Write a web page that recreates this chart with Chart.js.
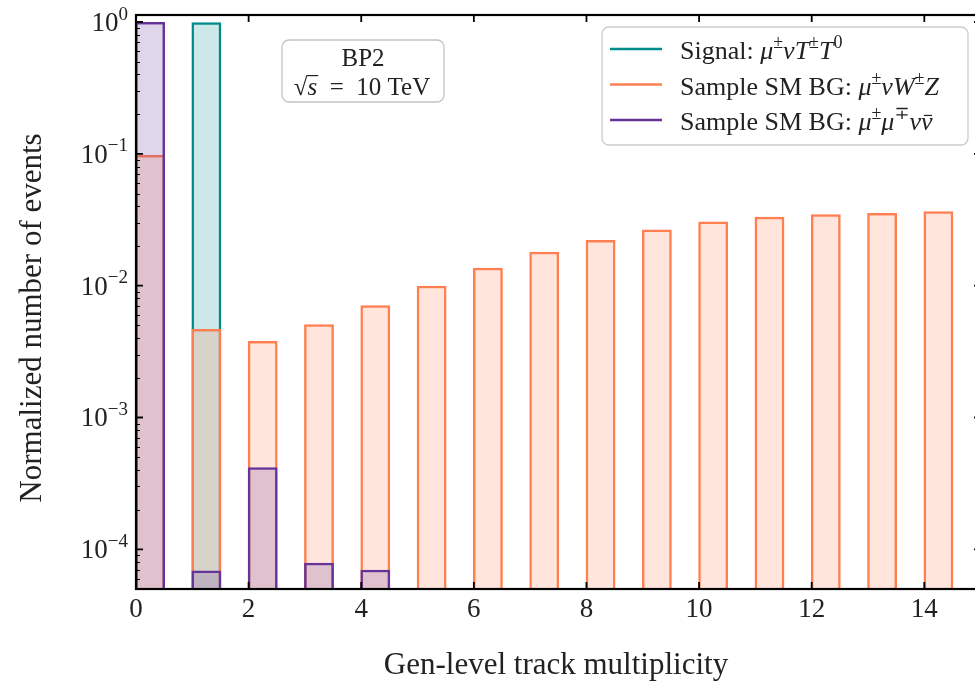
<!DOCTYPE html>
<html lang="en">
<head>
<meta charset="UTF-8">
<style>
  html, body { margin: 0; padding: 0; background: #fff; }
</style>
</head>
<body>
<canvas id="multChart" width="975" height="685"></canvas>
<script src="https://cdn.jsdelivr.net/npm/chart.js@4.4.1/dist/chart.umd.min.js"></script>
<script>
// Gen-level track multiplicity, normalized per sample. Bin k spans [k, k+0.5].
var bins = [0, 1, 2, 3, 4, 5, 6, 7, 8, 9, 10, 11, 12, 13, 14];
var signalFrac = [null, 0.995, null, null, null, null, null, null, null, null, null, null, null, null, null];
var wzFrac = [0.098, 0.0047, 0.0038, 0.0051, 0.0071, 0.0100, 0.0137, 0.0181, 0.0222, 0.0267, 0.0307, 0.0333, 0.0348, 0.0355, 0.0366];
var mumuFrac = [0.9994, 0.000069, 0.00042, 0.000079, 0.000070, null, null, null, null, null, null, null, null, null, null];

var xTickValues = [0, 2, 4, 6, 8, 10, 12, 14];
var yTickExps = [-4, -3, -2, -1, 0];

var TEAL = '#008b8b', CORAL = '#ff7f50', PURPLE = '#663399';
var SERIF = '"Liberation Serif", "DejaVu Serif", serif';

// legend entries as text runs (it = italic, sup = superscript, bar = accent bar)
var legendRows = [
  { color: TEAL, runs: [{ t: 'Signal: ' }, { t: 'μ', it: 1 }, { t: '±', sup: 1 }, { t: 'νT', it: 1 }, { t: '±', sup: 1 }, { t: 'T', it: 1 }, { t: '0', sup: 1 }] },
  { color: CORAL, runs: [{ t: 'Sample SM BG: ' }, { t: 'μ', it: 1 }, { t: '±', sup: 1 }, { t: 'νW', it: 1 }, { t: '±', sup: 1 }, { t: 'Z', it: 1 }] },
  { color: PURPLE, runs: [{ t: 'Sample SM BG: ' }, { t: 'μ', it: 1 }, { t: '±', sup: 1 }, { t: 'μ', it: 1 }, { t: '∓', sup: 1 }, { t: 'ν', it: 1 }, { t: 'ν', it: 1, bar: 1 }] }
];

function toPoints(vals) {
  return bins.map(function (b, i) { return { x: b + 0.25, y: vals[i] }; });
}

function runFont(r, size) {
  return (r.it ? 'italic ' : '') + (r.sup ? Math.round(size * 0.7) : size) + 'px ' + SERIF;
}

// draws a list of runs on one baseline
function drawRuns(c, runs, x, y, size, align) {
  var total = 0;
  runs.forEach(function (r) {
    c.font = runFont(r, size);
    r.w = c.measureText(r.t).width;
    total += r.w;
  });
  var cx = align === 'center' ? x - total / 2 : (align === 'right' ? x - total : x);
  c.textAlign = 'left';
  c.textBaseline = 'alphabetic';
  runs.forEach(function (r) {
    c.font = runFont(r, size);
    c.fillText(r.t, cx, r.sup ? y - size * 0.42 : y);
    c.lineWidth = 1.2;
    if (r.over) {
      // vinculum of the square root
      c.beginPath();
      c.moveTo(cx - 0.5, r.over);
      c.lineTo(cx + r.w + 1, r.over);
      c.stroke();
    }
    if (r.bar) {
      var by = y - size * 0.56;
      c.beginPath();
      c.moveTo(cx + r.w * 0.25, by);
      c.lineTo(cx + r.w * 0.95, by);
      c.stroke();
    }
    cx += r.w;
  });
}

function roundRect(c, x, y, w, h, r) {
  c.beginPath();
  c.moveTo(x + r, y);
  c.arcTo(x + w, y, x + w, y + h, r);
  c.arcTo(x + w, y + h, x, y + h, r);
  c.arcTo(x, y + h, x, y, r);
  c.arcTo(x, y, x + w, y, r);
  c.closePath();
}

// matplotlib-like frame: spines, inward ticks on all four sides, labels, legend, info box
var mplFrame = {
  id: 'mplFrame',
  afterDatasetsDraw: function (chart) {
    var c = chart.ctx, a = chart.chartArea, xs = chart.scales.x, ys = chart.scales.y;
    var right = a.right + 6; // right spine sits just past the canvas edge
    c.save();
    c.strokeStyle = '#000';
    c.fillStyle = '#000';

    // minor log ticks
    c.lineWidth = 1.2;
    for (var e = -5; e <= 0; e++) {
      for (var m = 2; m <= 9; m++) {
        var v = m * Math.pow(10, e);
        if (v < ys.min || v > ys.max) continue;
        var py = Math.round(ys.getPixelForValue(v)) + 0.5;
        c.beginPath();
        c.moveTo(a.left, py); c.lineTo(a.left + 4, py);
        c.moveTo(right - 4, py); c.lineTo(right, py);
        c.stroke();
      }
    }

    // major ticks
    c.lineWidth = 1.8;
    yTickExps.forEach(function (ex) {
      var py = ys.getPixelForValue(Math.pow(10, ex));
      c.beginPath();
      c.moveTo(a.left, py); c.lineTo(a.left + 7, py);
      c.moveTo(right - 7, py); c.lineTo(right, py);
      c.stroke();
    });
    xTickValues.forEach(function (xv) {
      var px = xs.getPixelForValue(xv);
      c.beginPath();
      c.moveTo(px, a.bottom); c.lineTo(px, a.bottom - 7);
      c.moveTo(px, a.top); c.lineTo(px, a.top + 7);
      c.stroke();
    });

    // spines
    c.lineWidth = 2.2;
    c.strokeRect(a.left, a.top, right - a.left, a.bottom - a.top);

    // tick labels
    c.fillStyle = '#222';
    xTickValues.forEach(function (xv) {
      drawRuns(c, [{ t: String(xv) }], xs.getPixelForValue(xv), a.bottom + 28, 27, 'center');
    });
    yTickExps.forEach(function (ex) {
      var py = ys.getPixelForValue(Math.pow(10, ex));
      var sup = ex < 0 ? '−' + (-ex) : String(ex);
      drawRuns(c, [{ t: '10' }, { t: sup, sup: 1 }], a.left - 8, py + 9, 27, 'right');
    });

    // axis titles
    drawRuns(c, [{ t: 'Gen-level track multiplicity' }], 556, 674, 31, 'center');
    c.save();
    c.translate(41, 318);
    c.rotate(-Math.PI / 2);
    drawRuns(c, [{ t: 'Normalized number of events' }], 0, 0, 31, 'center');
    c.restore();

    // benchmark box
    c.fillStyle = 'rgba(255,255,255,0.8)';
    roundRect(c, 282, 40, 162, 62, 7);
    c.fill();
    c.strokeStyle = '#c4c4c4';
    c.lineWidth = 1.3;
    c.stroke();
    c.fillStyle = '#222';
    c.strokeStyle = '#222';
    drawRuns(c, [{ t: 'BP2' }], 363, 66, 25, 'center');
    c.font = '25px ' + SERIF;
    var rootTop = 95 - c.measureText('√').actualBoundingBoxAscent + 0.6;
    drawRuns(c, [{ t: '√' }, { t: 's', it: 1, over: rootTop }, { t: '\u2002=\u200210 TeV' }], 362, 95, 25, 'center');

    // legend
    c.fillStyle = 'rgba(255,255,255,0.8)';
    roundRect(c, 602, 27, 366, 118, 7);
    c.fill();
    c.strokeStyle = '#cccccc';
    c.lineWidth = 1.3;
    c.stroke();
    legendRows.forEach(function (row, i) {
      var ly = 49 + i * 35.5;
      c.strokeStyle = row.color;
      c.lineWidth = 2.6;
      c.beginPath();
      c.moveTo(610, ly); c.lineTo(662, ly);
      c.stroke();
      c.fillStyle = '#222';
      c.strokeStyle = '#222';
      drawRuns(c, row.runs, 680, ly + 10, 26, 'left');
    });

    c.restore();
  }
};

var ctx = document.getElementById('multChart').getContext('2d');
var chart = new Chart(ctx, {
  type: 'bar',
  data: {
    datasets: [
      { label: 'Signal', data: toPoints(signalFrac), backgroundColor: 'rgba(0,139,139,0.2)', borderColor: TEAL, order: 3 },
      { label: 'WZ', data: toPoints(wzFrac), backgroundColor: 'rgba(255,127,80,0.2)', borderColor: CORAL, order: 2 },
      { label: 'mumununu', data: toPoints(mumuFrac), backgroundColor: 'rgba(102,51,153,0.2)', borderColor: PURPLE, order: 1 }
    ]
  },
  options: {
    responsive: false,
    animation: false,
    layout: { padding: { left: 136, top: 15, right: 0, bottom: 96 } },
    datasets: {
      bar: { grouped: false, barPercentage: 0.53, categoryPercentage: 1, borderWidth: 2.5, borderSkipped: 'start' }
    },
    plugins: { legend: { display: false }, tooltip: { enabled: false } },
    scales: {
      x: { type: 'linear', min: 0, max: 14.9, offset: false, display: false, ticks: { stepSize: 2, includeBounds: false } },
      y: { type: 'logarithmic', min: 5e-5, max: 1.13, display: false }
    }
  },
  plugins: [mplFrame]
});
</script>
</body>
</html>
